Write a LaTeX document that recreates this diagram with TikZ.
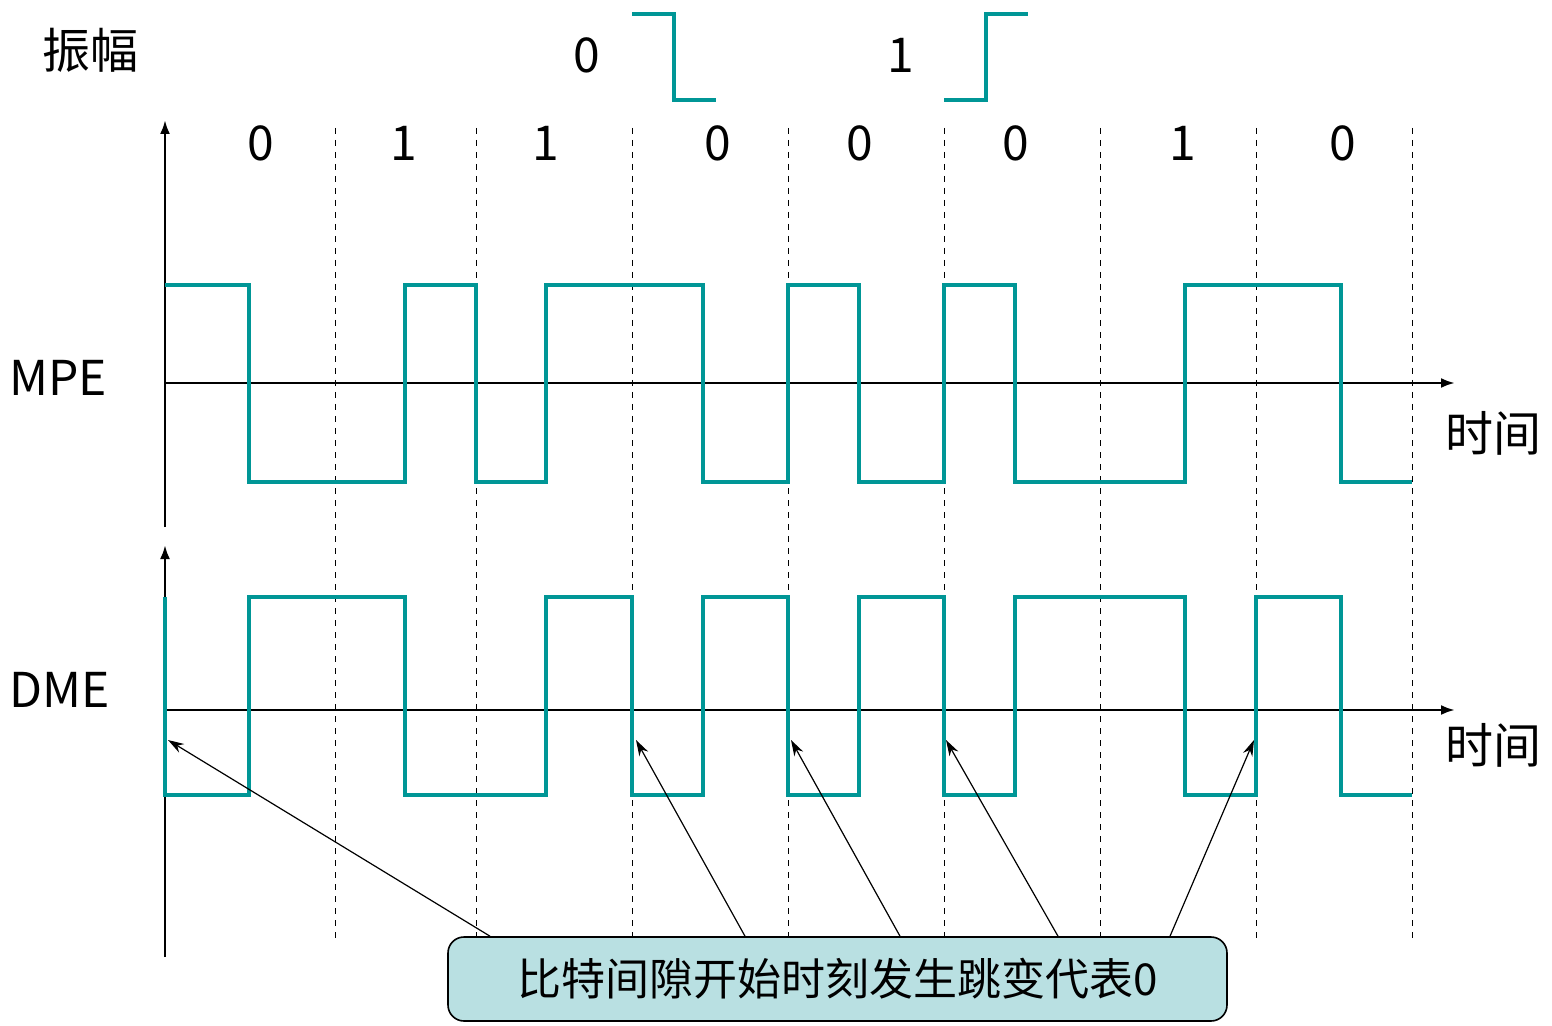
\documentclass[tikz,border=0pt]{standalone}
\usepackage{fontspec}
\setmainfont{Noto Sans CJK SC}
\usetikzlibrary{arrows.meta}
\definecolor{wave}{RGB}{0,150,150}
\definecolor{boxfill}{RGB}{185,224,226}
\begin{document}
\begin{tikzpicture}[
		x=0.5pt, y=-0.5pt,
		signal/.style={wave, line width=2pt},
		axis/.style={line width=1.3pt, -{Latex[length=7pt,width=5pt]}},
		slot/.style={dashed, line width=0.5pt},
		pointer/.style={line width=0.6pt, -{Stealth[length=8pt,width=5pt]}},
		lbl/.style={font=\fontsize{24}{28}\selectfont},
	]
	\useasboundingbox (0,0) rectangle (1552,1026);
	% bit slot borders
	\foreach \x in {335,476,632,788,944,1100,1256,1412}
		\draw[slot] (\x,128) -- (\x,938);
	% bit values
	\foreach \x/\b in {261/0,404/1,546/1,718/0,860/0,1016/0,1183/1,1343/0}
		\node[lbl] (bit\x) at (\x,143) {\b};
	% key
	\node[lbl] (key0) at (587,55) {0};
	\node[lbl] (key1) at (901,55) {1};
	\draw[signal] (632,14) -- (674,14) -- (674,100) -- (716,100);
	\draw[signal] (944,100) -- (986,100) -- (986,14) -- (1028,14);
	% labels
	\node[lbl] (amp) at (90,50) {振幅};
	\node[lbl] (mpe) at (58,378) {MPE};
	\node[lbl] (dme) at (60,690) {DME};
	\node[lbl] (t1) at (1493,433) {时间};
	\node[lbl] (t2) at (1493,745) {时间};
	% axes
	\coordinate (o1) at (165,383);
	\coordinate (o2) at (165,710);
	\draw[axis] (165,527) -- (165,120);
	\draw[axis] (165,957) -- (165,545);
	\draw[axis] (o1) -- (1455,383);
	\draw[axis] (o2) -- (1455,710);
	% MPE
	\draw[signal] (165,285) -- (249,285) -- (249,482) -- (405,482) -- (405,285) -- (476,285) -- (476,482) -- (546,482) -- (546,285) -- (703,285) -- (703,482) -- (788,482) -- (788,285) -- (859,285) -- (859,482) -- (944,482) -- (944,285) -- (1015,285) -- (1015,482) -- (1185,482) -- (1185,285) -- (1341,285) -- (1341,482) -- (1412,482);
	% DME
	\draw[signal] (165,597) -- (165,795) -- (249,795) -- (249,597) -- (405,597) -- (405,795) -- (546,795) -- (546,597) -- (632,597) -- (632,795) -- (703,795) -- (703,597) -- (788,597) -- (788,795) -- (859,795) -- (859,597) -- (944,597) -- (944,795) -- (1015,795) -- (1015,597) -- (1185,597) -- (1185,795) -- (1256,795) -- (1256,597) -- (1341,597) -- (1341,795) -- (1412,795);
	% note
	\node[draw, fill=boxfill, rounded corners=8pt, line width=0.8pt,
		minimum width=779*0.5pt, minimum height=84*0.5pt,
		font=\fontsize{22}{26}\selectfont] (note) at (837.5,979) {比特间隙开始时刻发生跳变代表0};
	\foreach \s/\e in {490/168,745/636,900/791,1058/946,1170/1254}
		\draw[pointer] (note.north -| \s,0) -- (\e,740);
\end{tikzpicture}
\end{document}
